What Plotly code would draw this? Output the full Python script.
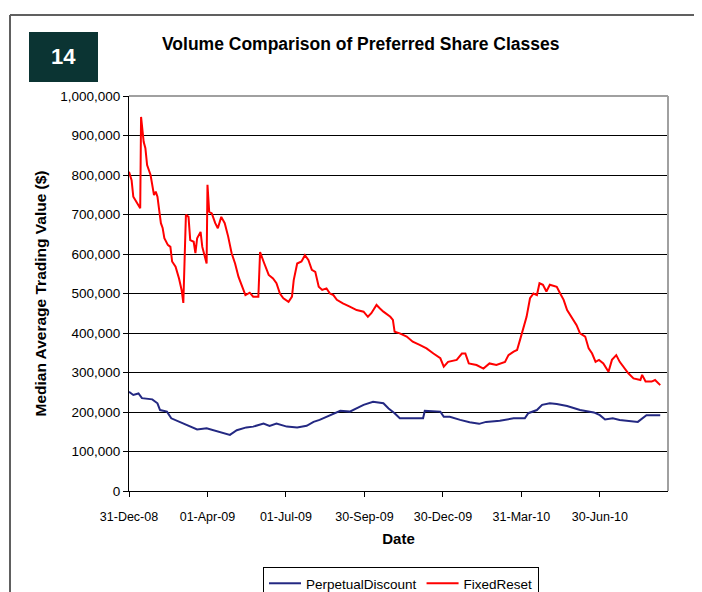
import plotly.graph_objects as go

# ---------------- data ----------------
fr_dates = [
    "2008-12-31", "2009-01-03", "2009-01-05", "2009-01-09", "2009-01-13", "2009-01-14",
    "2009-01-16", "2009-01-17", "2009-01-19", "2009-01-21", "2009-01-25", "2009-01-27",
    "2009-01-29", "2009-01-31", "2009-02-02", "2009-02-04", "2009-02-06", "2009-02-08",
    "2009-02-10", "2009-02-14", "2009-02-17", "2009-02-19", "2009-02-23", "2009-02-27",
    "2009-03-02", "2009-03-04", "2009-03-06", "2009-03-07", "2009-03-10", "2009-03-12",
    "2009-03-16", "2009-03-18", "2009-03-20", "2009-03-24", "2009-03-26", "2009-03-30",
    "2009-03-31", "2009-04-01", "2009-04-03", "2009-04-06", "2009-04-10", "2009-04-13",
    "2009-04-17", "2009-04-21", "2009-04-25", "2009-04-29", "2009-05-03", "2009-05-07",
    "2009-05-11", "2009-05-15", "2009-05-20", "2009-05-24", "2009-05-30", "2009-06-01",
    "2009-06-05", "2009-06-11", "2009-06-16", "2009-06-20", "2009-06-24", "2009-06-28",
    "2009-07-04", "2009-07-08", "2009-07-10", "2009-07-14", "2009-07-19", "2009-07-23",
    "2009-07-27", "2009-07-31", "2009-08-04", "2009-08-08", "2009-08-12", "2009-08-17",
    "2009-08-21", "2009-08-25", "2009-08-29", "2009-09-05", "2009-09-13", "2009-09-21",
    "2009-09-29", "2009-10-04", "2009-10-08", "2009-10-14", "2009-10-18", "2009-10-22",
    "2009-10-30", "2009-11-02", "2009-11-04", "2009-11-10", "2009-11-18", "2009-11-25",
    "2009-12-03", "2009-12-11", "2009-12-19", "2009-12-27", "2009-12-31", "2010-01-05",
    "2010-01-15", "2010-01-21", "2010-01-25", "2010-01-29", "2010-02-07", "2010-02-15",
    "2010-02-22", "2010-03-02", "2010-03-12", "2010-03-16", "2010-03-22", "2010-03-26",
    "2010-03-30", "2010-04-02", "2010-04-06", "2010-04-10", "2010-04-14", "2010-04-18",
    "2010-04-21", "2010-04-25", "2010-04-29", "2010-05-03", "2010-05-11", "2010-05-15",
    "2010-05-19", "2010-05-23", "2010-05-28", "2010-06-03", "2010-06-07", "2010-06-13",
    "2010-06-17", "2010-06-21", "2010-06-25", "2010-06-29", "2010-07-04", "2010-07-10",
    "2010-07-14", "2010-07-19", "2010-07-23", "2010-07-27", "2010-08-02", "2010-08-08",
    "2010-08-16", "2010-08-18", "2010-08-22", "2010-08-29", "2010-09-02", "2010-09-08",
]
fr_values = [
    808000, 787000, 745000, 729000, 716000, 947000,
    888000, 884000, 868000, 825000, 800000, 770000,
    749000, 758000, 745000, 711000, 678000, 666000,
    640000, 623000, 618000, 581000, 568000, 538000,
    509000, 476000, 602000, 699000, 694000, 635000,
    631000, 602000, 640000, 656000, 618000, 585000,
    576000, 775000, 707000, 703000, 678000, 665000,
    694000, 678000, 644000, 602000, 576000, 542000,
    517000, 496000, 502000, 492000, 492000, 605000,
    581000, 547000, 538000, 526000, 500000, 488000,
    479000, 492000, 534000, 576000, 581000, 597000,
    585000, 560000, 555000, 517000, 509000, 513000,
    500000, 496000, 484000, 475000, 467000, 458000,
    454000, 441000, 450000, 471000, 462000, 454000,
    441000, 433000, 403000, 399000, 391000, 378000,
    370000, 361000, 348000, 336000, 315000, 327000,
    332000, 348000, 348000, 323000, 319000, 310000,
    323000, 319000, 327000, 344000, 353000, 357000,
    387000, 412000, 441000, 488000, 500000, 496000,
    526000, 522000, 505000, 522000, 517000, 500000,
    484000, 458000, 441000, 420000, 399000, 391000,
    361000, 348000, 327000, 332000, 323000, 302000,
    332000, 344000, 327000, 315000, 298000, 285000,
    281000, 294000, 277000, 277000, 281000, 268000,
]

pd_dates = [
    "2008-12-31", "2009-01-05", "2009-01-11", "2009-01-15", "2009-01-27", "2009-02-02",
    "2009-02-05", "2009-02-13", "2009-02-18", "2009-02-28", "2009-03-08", "2009-03-20",
    "2009-03-31", "2009-04-12", "2009-04-23", "2009-04-27", "2009-05-05", "2009-05-16",
    "2009-05-24", "2009-06-05", "2009-06-12", "2009-06-20", "2009-07-02", "2009-07-14",
    "2009-07-25", "2009-08-02", "2009-08-09", "2009-08-17", "2009-08-25", "2009-09-02",
    "2009-09-13", "2009-09-21", "2009-09-29", "2009-10-10", "2009-10-22", "2009-10-28",
    "2009-11-04", "2009-11-10", "2009-12-07", "2009-12-09", "2009-12-27", "2009-12-31",
    "2010-01-07", "2010-01-19", "2010-01-30", "2010-02-10", "2010-02-18", "2010-03-06",
    "2010-03-22", "2010-04-04", "2010-04-08", "2010-04-18", "2010-04-24", "2010-05-03",
    "2010-05-11", "2010-05-23", "2010-06-07", "2010-06-23", "2010-06-30", "2010-07-06",
    "2010-07-15", "2010-07-23", "2010-08-04", "2010-08-13", "2010-08-23", "2010-09-08",
]
pd_values = [
    251000, 243000, 247000, 235000, 232000, 222000,
    205000, 201000, 184000, 175000, 167000, 156000,
    159000, 152000, 146000, 142000, 154000, 161000,
    163000, 171000, 165000, 171000, 163000, 161000,
    165000, 175000, 180000, 188000, 197000, 203000,
    201000, 209000, 218000, 226000, 222000, 209000,
    197000, 184000, 184000, 203000, 201000, 188000,
    188000, 180000, 174000, 170000, 175000, 178000,
    184000, 184000, 197000, 205000, 218000, 222000,
    220000, 215000, 205000, 199000, 192000, 181000,
    184000, 180000, 178000, 175000, 192000, 192000,
]

x_tick_dates = ["2008-12-31", "2009-04-01", "2009-07-01", "2009-09-30",
                "2009-12-30", "2010-03-31", "2010-06-30"]
x_tick_labels = ["31-Dec-08", "01-Apr-09", "01-Jul-09", "30-Sep-09",
                 "30-Dec-09", "31-Mar-10", "30-Jun-10"]
y_tick_vals = [0, 100000, 200000, 300000, 400000, 500000,
               600000, 700000, 800000, 900000, 1000000]

# ---------------- figure geometry ----------------
OFF = 8                        # default page body margin of the html page
WIN_W, WIN_H = 702, 592
W, H = WIN_W - OFF, WIN_H - OFF
L, R, T, B = 129, 668, 96, 491  # plot area in window pixels


def px(xp):
    return (xp - L) / (R - L)


def py(yp):
    return (B - yp) / (B - T)


FONT = "Arial, Liberation Sans, sans-serif"

fig = go.Figure()
fig.add_trace(go.Scatter(x=pd_dates, y=pd_values, name="PerpetualDiscount",
                         mode="lines", line=dict(color="#232882", width=2)))
fig.add_trace(go.Scatter(x=fr_dates, y=fr_values, name="FixedReset",
                         mode="lines", line=dict(color="#FF0000", width=2)))

fig.update_layout(
    width=W, height=H,
    margin=dict(l=L - OFF, r=WIN_W - R, t=T - OFF, b=WIN_H - B, autoexpand=False),
    paper_bgcolor="white", plot_bgcolor="white",
    font=dict(family=FONT, size=12, color="black"),
    showlegend=True,
    legend=dict(orientation="h", x=px(401), xanchor="center",
                y=py(567), yanchor="top",
                bordercolor="black", borderwidth=1, bgcolor="white",
                font=dict(size=13.5), itemwidth=32,
                tracegroupgap=0),
)

fig.update_xaxes(
    type="date", range=["2008-12-31", "2010-09-17"],
    tickmode="array", tickvals=x_tick_dates, ticktext=x_tick_labels,
    ticks="outside", ticklen=5, tickcolor="black",
    ticklabelstandoff=9,
    showline=True, linecolor="black", linewidth=1,
    showgrid=False, zeroline=False,
    tickfont=dict(size=12.5),
    title=dict(text="<b>Date</b>", font=dict(size=15), standoff=10),
)
fig.update_yaxes(
    range=[0, 1000000], tickmode="array", tickvals=y_tick_vals,
    tickformat=",d",
    ticks="outside", ticklen=5, tickcolor="black",
    showline=True, linecolor="black", linewidth=1,
    showgrid=True, gridcolor="black", gridwidth=1,
    zeroline=False,
    tickfont=dict(size=13.5),
    title=dict(text="<b>Median Average Trading Value ($)</b>", font=dict(size=15.5),
               standoff=9),
)

shapes = []
# plot-area top and right border (gray)
shapes.append(dict(type="line", xref="paper", yref="paper", x0=0, x1=1, y0=1, y1=1,
                   line=dict(color="#A0A0A0", width=2), layer="above"))
shapes.append(dict(type="line", xref="paper", yref="paper", x0=1, x1=1, y0=0, y1=1,
                   line=dict(color="#A0A0A0", width=2), layer="above"))
# outer frame (top and left)
shapes.append(dict(type="line", xref="paper", yref="paper", x0=px(10), x1=px(720),
                   y0=py(15), y1=py(15), line=dict(color="#606060", width=2)))
shapes.append(dict(type="line", xref="paper", yref="paper", x0=px(10), x1=px(10),
                   y0=py(15), y1=py(600), line=dict(color="#606060", width=2)))
# dark figure-number box
shapes.append(dict(type="rect", xref="paper", yref="paper", x0=px(29), x1=px(98),
                   y0=py(82), y1=py(32), fillcolor="#0B3433", line=dict(width=0)))
fig.update_layout(shapes=shapes)

fig.add_annotation(text="<b>14</b>", xref="paper", yref="paper",
                   x=px(63.5), y=py(57), xanchor="center", yanchor="middle",
                   showarrow=False,
                   font=dict(family=FONT, size=22, color="white"))
fig.add_annotation(text="<b>Volume Comparison of Preferred Share Classes</b>",
                   xref="paper", yref="paper", x=px(361), y=py(44),
                   xanchor="center", yanchor="middle",
                   showarrow=False, font=dict(family=FONT, size=17.5, color="black"))

fig.write_html("out.html")
